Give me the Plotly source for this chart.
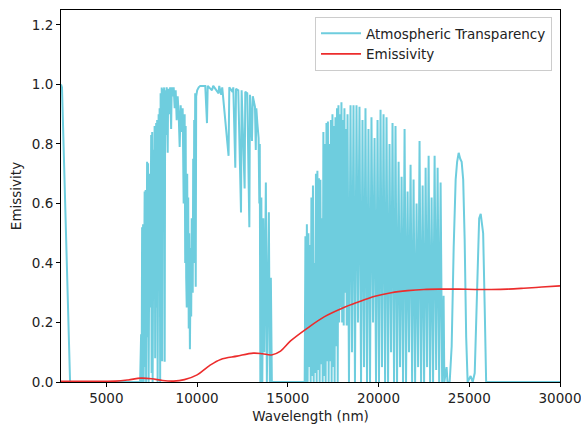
import plotly.graph_objects as go

# ---- Atmospheric transparency ----
# edge segment + first window (8-14 um)
win1_nm = [2500, 2555, 3000, 6860,
           6915, 6945, 6970, 7000, 7025, 7055, 7110, 7135, 7165, 7190,
           7245, 7275, 7300, 7330, 7385, 7415, 7470, 7495, 7525, 7550,
           7605, 7635, 7660, 7690, 7745, 7770, 7800, 7825, 7880, 7910,
           7935, 7965, 7990, 8020, 8050, 8075, 8105, 8160, 8185, 8215,
           8240, 8295, 8325, 8380, 8405, 8460, 8515, 8570, 8600, 8655,
           8710, 8765, 8820, 8875, 8930, 8985, 9040, 9095, 9150, 9205,
           9260, 9315, 9345, 9370, 9400, 9430, 9455, 9485, 9510, 9540, 9565,
           9605, 9650, 9675, 9705, 9730, 9760, 9785, 9815, 9840, 9870, 9895,
           9925, 9950, 10005, 10090, 10175, 10450, 10545, 10585, 10820, 10890,
           11185, 11220, 11330, 11385, 11735, 11775, 11955, 11995, 12105, 12145,
           12270, 12420, 12455, 12620, 12655, 12765, 12880, 12915, 13025, 13070,
           13190, 13235, 13265, 13320, 13390, 13430, 13455, 13485, 13540, 13595,
           13650, 13705, 13790, 13845, 13900, 13955, 14010, 14065, 14120, 14150]
win1_val = [1.00, 0.99, 0.00, 0.00,
            0.16, 0.00, 0.52, 0.02, 0.53, 0.00, 0.64, 0.05, 0.645, 0.00,
            0.74, 0.15, 0.735, 0.00, 0.70, 0.25, 0.83, 0.03, 0.84, 0.00,
            0.78, 0.68, 0.86, 0.08, 0.87, 0.25, 0.88, 0.00, 0.90, 0.35,
            0.92, 0.00, 0.97, 0.45, 0.99, 0.07, 0.985, 0.92, 0.99, 0.068,
            0.98, 0.83, 0.99, 0.77, 0.985, 0.90, 0.99, 0.85, 0.99, 0.96,
            0.99, 0.92, 0.98, 0.88, 0.96, 0.90, 0.79, 0.93, 0.84, 0.92,
            0.60, 0.90, 0.40, 0.86, 0.35, 0.25, 0.70, 0.30, 0.62, 0.18, 0.50,
            0.11, 0.45, 0.22, 0.55, 0.35, 0.30, 0.75, 0.40, 0.88, 0.49, 0.97,
            0.32, 0.96, 0.98, 0.99, 0.995, 0.995, 0.87, 0.995, 0.98, 0.995,
            0.97, 0.995, 0.965, 0.99, 0.76, 0.99, 0.975, 0.99, 0.72, 0.985,
            0.98, 0.57, 0.98, 0.65, 0.975, 0.97, 0.52, 0.965, 0.81, 0.96,
            0.925, 0.78, 0.92, 0.87, 0.82, 0.60, 0.80, 0.00, 0.62, 0.00,
            0.55, 0.10, 0.67, 0.00, 0.42, 0.57, 0.00, 0.35, 0.00, 0.00]

# second window (16-26 um)
win2_nm = [15930, 15970, 16010, 16050, 16090, 16135, 16175, 16220, 16260, 16300, 16340,
           16385, 16425, 16465, 16505, 16550, 16590, 16630, 16670, 16715, 16755,
           16795, 16835, 16880, 16920, 16960, 17000, 17045, 17085, 17130, 17170,
           17210, 17250, 17295, 17335, 17375, 17415, 17460, 17500, 17540, 17580,
           17625, 17665, 17710, 17750, 17790, 17830, 17875, 17915, 17955, 17995,
           18040, 18080, 18120, 18160, 18205, 18245,
           18290, 18370, 18455, 18535, 18620, 18700, 18785, 18865, 18950, 19035,
           19115, 19200, 19280, 19365, 19445, 19530, 19610, 19695, 19780, 19860,
           19945, 20025, 20110, 20190, 20275, 20360, 20440, 20525, 20605, 20690,
           20770, 20855, 20935, 21020, 21105, 21185, 21270, 21350, 21435, 21515,
           21600, 21680, 21765, 21850, 21930, 22015, 22095, 22180, 22260, 22345,
           22430, 22510, 22595, 22675, 22760, 22840, 22925, 23005, 23090, 23175,
           23255, 23340, 23420, 23505, 23585, 23625, 23750, 23800,
           23920, 24030, 24140, 24250, 24330, 24415, 24500, 24580, 24665, 24745,
           24830, 24910, 25075, 25190, 25300, 25380, 25465, 25545, 25630, 25685,
           25765, 25850, 25930, 30000]
win2_val = [0.00, 0.49, 0.00, 0.53, 0.00, 0.50, 0.05, 0.46, 0.00, 0.62, 0.02,
            0.66, 0.00, 0.40, 0.03, 0.70, 0.00, 0.71, 0.04, 0.685, 0.00,
            0.68, 0.06, 0.55, 0.00, 0.84, 0.02, 0.80, 0.00, 0.87, 0.07,
            0.875, 0.00, 0.80, 0.07, 0.88, 0.00, 0.90, 0.05, 0.86, 0.00,
            0.89, 0.12, 0.92, 0.00, 0.93, 0.20, 0.90, 0.25, 0.94, 0.20,
            0.88, 0.19, 0.92, 0.30, 0.85, 0.19,
            0.90, 0.00, 0.93, 0.10, 0.93, 0.00, 0.93, 0.20, 0.925, 0.00,
            0.88, 0.05, 0.92, 0.00, 0.85, 0.00, 0.89, 0.20, 0.82, 0.00,
            0.88, 0.00, 0.915, 0.05, 0.90, 0.00, 0.89, 0.00, 0.80, 0.10,
            0.87, 0.00, 0.86, 0.00, 0.74, 0.05, 0.69, 0.00, 0.85, 0.00,
            0.64, 0.10, 0.73, 0.00, 0.68, 0.00, 0.60, 0.05, 0.81, 0.00,
            0.66, 0.00, 0.72, 0.05, 0.76, 0.00, 0.62, 0.00, 0.76, 0.04,
            0.72, 0.00, 0.67, 0.00, 0.29, 0.00, 0.05, 0.00,
            0.00, 0.12, 0.45, 0.68, 0.74, 0.77, 0.75, 0.74, 0.68, 0.48,
            0.15, 0.00, 0.02, 0.00, 0.03, 0.20, 0.45, 0.55, 0.565, 0.54,
            0.50, 0.25, 0.00, 0.00]

# ---- Emissivity (smooth curve) ----
emis_nm = [2500, 4000, 5500, 6200, 6900, 7500, 8100, 8700, 9300, 10000,
           10700, 11300, 12200, 13100, 13600, 14100, 14600, 15150, 16100, 17000,
           18000, 18850, 19800, 20700, 21600, 22500, 23500, 24400, 25300, 26200,
           27100, 28000, 29000, 30000]
emis_val = [0.002, 0.002, 0.003, 0.007, 0.013, 0.011, 0.005, 0.003, 0.008, 0.024,
            0.056, 0.076, 0.087, 0.097, 0.095, 0.091, 0.104, 0.138, 0.182, 0.219,
            0.248, 0.268, 0.288, 0.300, 0.307, 0.311, 0.312, 0.312, 0.311, 0.311,
            0.312, 0.315, 0.319, 0.323]

x_ticks = [5000, 10000, 15000, 20000, 25000, 30000]
y_ticks = [0.0, 0.2, 0.4, 0.6, 0.8, 1.0, 1.2]

CYAN = "rgb(110,205,222)"
RED = "rgb(236,44,44)"
FONT = "DejaVu Sans"
FS = 13.5

fig = go.Figure()
fig.add_trace(go.Scatter(
    x=win1_nm + win2_nm, y=win1_val + win2_val, mode="lines",
    name="Atmospheric Transparency",
    line=dict(color=CYAN, width=2)))
fig.add_trace(go.Scatter(
    x=emis_nm, y=emis_val, mode="lines", name="Emissivity",
    line=dict(color=RED, width=1.6, shape="spline", smoothing=1.0)))

axis_common = dict(showline=True, linecolor="black", linewidth=1, mirror=True,
                   ticks="outside", ticklen=4, tickcolor="black", tickwidth=1,
                   showgrid=False, zeroline=False, automargin=False,
                   ticklabeloverflow="allow",
                   tickfont=dict(family=FONT, size=FS, color="#222222"))

fig.update_xaxes(range=[2500, 30000], tickvals=x_ticks,
                 ticktext=[str(v) for v in x_ticks],
                 title=dict(text="Wavelength (nm)", standoff=6,
                            font=dict(family=FONT, size=FS, color="#222222")),
                 **axis_common)
fig.update_yaxes(range=[0, 1.25], tickvals=y_ticks,
                 ticktext=[f"{v:.1f}" for v in y_ticks],
                 title=dict(text="Emissivity", standoff=7,
                            font=dict(family=FONT, size=FS, color="#222222")),
                 **axis_common)

fig.update_layout(
    width=581, height=425,
    margin=dict(l=61, r=21, t=10, b=43),
    paper_bgcolor="white", plot_bgcolor="white",
    font=dict(family=FONT, size=FS, color="#222222"),
    showlegend=True,
    legend=dict(x=0.984, y=0.981, xanchor="right", yanchor="top",
                bgcolor="rgba(255,255,255,0.85)", bordercolor="#cccccc",
                borderwidth=1, font=dict(family=FONT, size=FS, color="#222222"),
                tracegroupgap=0, itemwidth=40),
)

fig.write_html("out.html", config={"displayModeBar": False},
               post_script="document.body.style.margin='0px';"
                           "document.body.style.padding='0px';"
                           "document.body.style.overflow='hidden';")
